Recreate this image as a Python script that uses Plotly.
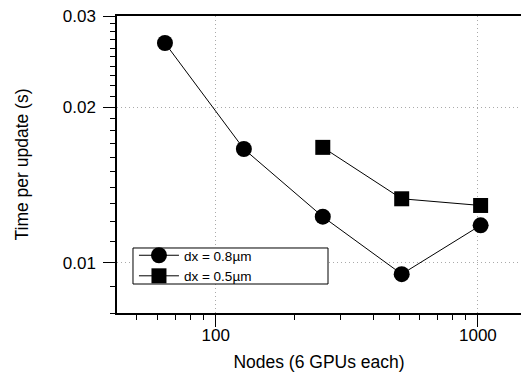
import numpy as np
import plotly.graph_objects as go

# Data
nodes_08 = [64, 128, 256, 512, 1024]
time_08 = [0.0266, 0.0166, 0.01228, 0.00951, 0.01182]
nodes_05 = [256, 512, 1024]
time_05 = [0.01672, 0.0133, 0.01291]
labels = ["dx = 0.8µm", "dx = 0.5µm"]

x_major = [100, 1000]
x_major_text = ["100", "1000"]
y_major = [0.01, 0.02, 0.03]
y_major_text = ["0.01", "0.02", "0.03"]
x_minor = [50, 60, 70, 80, 90, 200, 300, 400, 500, 600, 700, 800, 900]
y_minor = [0.008, 0.009] + [round(0.011 + 0.001 * i, 3) for i in range(9)] + [round(0.021 + 0.001 * i, 3) for i in range(9)]

FONT = "Liberation Sans, Arial, Helvetica, sans-serif"

fig = go.Figure()
fig.add_trace(go.Scatter(
    x=nodes_08, y=time_08, mode="lines+markers", name=labels[0],
    line=dict(color="black", width=1),
    marker=dict(symbol="circle", size=16, color="black"),
))
fig.add_trace(go.Scatter(
    x=nodes_05, y=time_05, mode="lines+markers", name=labels[1],
    line=dict(color="black", width=1),
    marker=dict(symbol="square", size=15, color="black"),
))

# legend frame
fig.add_shape(type="rect", xref="paper", yref="paper",
              x0=0.0396, x1=0.5223, y0=0.0976, y1=0.2189,
              line=dict(color="black", width=1), fillcolor="white", layer="above")

fig.update_layout(
    width=521, height=376,
    margin=dict(l=117, r=0, t=16, b=63),
    paper_bgcolor="white", plot_bgcolor="white",
    font=dict(family=FONT, size=17, color="black"),
    showlegend=True,
    legend=dict(
        x=0.042, y=0.1583, xanchor="left", yanchor="middle",
        bgcolor="rgba(0,0,0,0)", borderwidth=0,
        font=dict(size=13.5, family=FONT),
        tracegroupgap=0, itemwidth=40, itemsizing="trace",
    ),
    xaxis=dict(
        type="log", range=[np.log10(42), np.log10(1460)],
        tickmode="array", tickvals=x_major, ticktext=x_major_text,
        ticks="outside", ticklen=12, tickwidth=1, tickcolor="black",
        showline=True, linecolor="black", linewidth=1.5, mirror=True,
        showgrid=True, gridcolor="#aaaaaa", griddash="1px,3px", gridwidth=1,
        zeroline=False, automargin=False, ticklabelstandoff=-6,
        minor=dict(tickmode="array", tickvals=x_minor, ticks="outside",
                   ticklen=5, tickwidth=1, tickcolor="black", showgrid=False),
        title=dict(text="Nodes (6 GPUs each)", font=dict(size=17.5), standoff=12),
        tickfont=dict(size=17),
    ),
    yaxis=dict(
        type="log", range=[np.log10(0.008), np.log10(0.03)],
        tickmode="array", tickvals=y_major, ticktext=y_major_text,
        ticks="outside", ticklen=12, tickwidth=1, tickcolor="black",
        showline=True, linecolor="black", linewidth=1.5, mirror=False,
        showgrid=True, gridcolor="#aaaaaa", griddash="1px,3px", gridwidth=1,
        zeroline=False, automargin=False, ticklabelstandoff=4,
        minor=dict(tickmode="array", tickvals=y_minor, ticks="outside",
                   ticklen=5, tickwidth=1, tickcolor="black", showgrid=False),
        title=dict(text="Time per update (s)", font=dict(size=17.5), standoff=30),
        tickfont=dict(size=17),
    ),
)

fig.write_html("out.html", config={"displayModeBar": False},
               post_script="document.body.style.margin='0';")
